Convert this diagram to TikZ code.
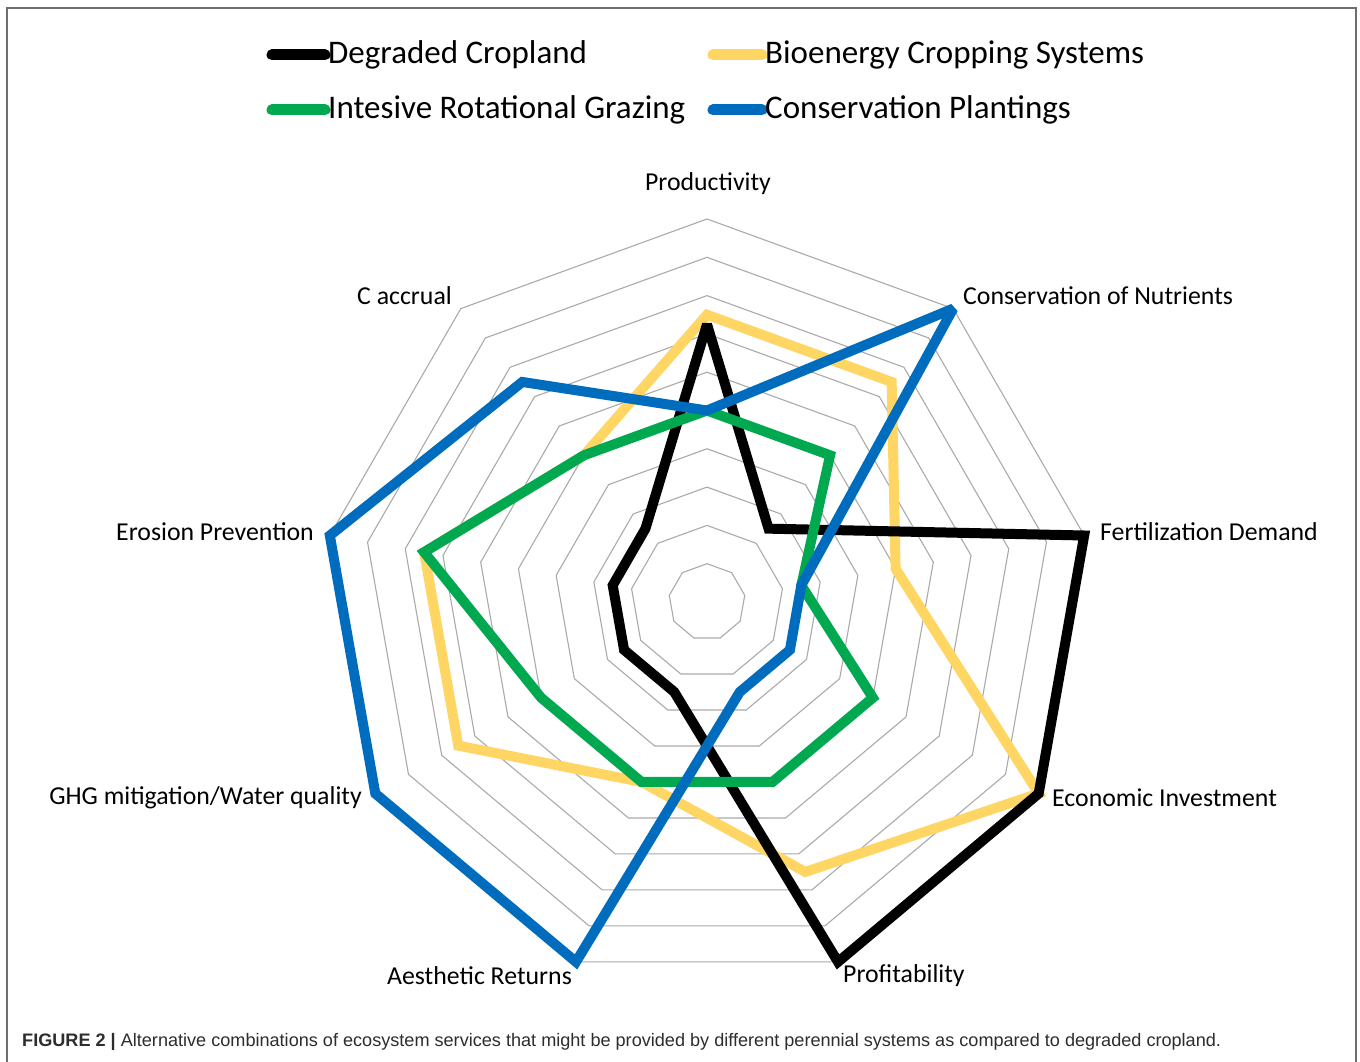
\documentclass[tikz,border=0pt]{standalone}
\usepackage{fontspec}
\setmainfont{Carlito}
\newfontfamily\capfont{Liberation Sans}
\definecolor{sYellow}{RGB}{255,214,100}
\definecolor{sGreen}{RGB}{0,168,80}
\definecolor{sBlue}{RGB}{0,108,190}
\definecolor{gridgray}{RGB}{170,170,170}
\definecolor{framegray}{RGB}{110,110,110}
\definecolor{capgray}{RGB}{45,45,45}
\newcommand\radarline[3]{%
  \draw[#1] (707,{602-38.3*#2}) \foreach \v [count=\k] in {#3}{ -- ({707+38.3*\v*cos(90-40*\k)},{602-38.3*\v*sin(90-40*\k)}) } -- cycle;
}
\begin{document}
\begin{tikzpicture}[x=1pt,y=-1pt,
  gridline/.style={draw=gridgray,line width=1.1pt},
  series/.style={line width=10pt,line join=miter,miter limit=2},
  legline/.style={line width=11pt,line cap=round},
  axislabel/.style={font=\fontsize{25.8}{28}\selectfont,inner sep=0pt},
  legtext/.style={font=\fontsize{33}{36}\selectfont,inner sep=0pt,anchor=west},
  frameline/.style={draw=framegray,line width=2pt}]
\useasboundingbox (0,0) rectangle (1360,1062);
\fill[white] (0,0) rectangle (1360,1062);
% frame
\draw[frameline] (7,1062) -- (7,8) -- (1356,8) -- (1356,1062);
% grid rings
\foreach \i in {1,...,10}{
  \draw[gridline] (707,{602-38.3*\i}) \foreach \k in {1,...,8}{ -- ({707+38.3*\i*cos(90-40*\k)},{602-38.3*\i*sin(90-40*\k)}) } -- cycle;
}
% series: order yellow, black, green, blue
\radarline{series,draw=sYellow}{7.5}{7.5,5,10,7.5,5,7.5,7.5,5}
\radarline{series,draw=black}{7.25}{2.5,10,10,10,2.5,2.5,2.5,2.5}
\radarline{series,draw=sGreen}{5}{5,2.5,5,5,5,5,7.5,5}
\radarline{series,draw=sBlue}{5}{10,2.5,2.5,2.5,10,10,10,7.5}
% axis labels
\node[axislabel] (lProd) at (708,184) {Productivity};
\node[axislabel,anchor=west] (lCons) at (963,296) {Conservation of Nutrients};
\node[axislabel,anchor=west] (lFert) at (1100,532) {Fertilization Demand};
\node[axislabel,anchor=west] (lEcon) at (1052,798) {Economic Investment};
\node[axislabel,anchor=west] (lProf) at (843,976) {Profitability};
\node[axislabel,anchor=east] (lAest) at (572,976) {Aesthetic Returns};
\node[axislabel,anchor=east] (lGHG) at (362,798) {GHG mitigation/Water quality};
\node[axislabel,anchor=east] (lEros) at (314,532) {Erosion Prevention};
\node[axislabel,anchor=east] (lCacc) at (452,296) {C accrual};
% legend
\coordinate (k1a) at (272,55); \coordinate (k1b) at (325,55);
\coordinate (k2a) at (713,55); \coordinate (k2b) at (762,55);
\coordinate (k3a) at (272,110); \coordinate (k3b) at (325,110);
\coordinate (k4a) at (713,110); \coordinate (k4b) at (762,110);
\draw[legline,draw=black] (k1a) -- (k1b);
\draw[legline,draw=sYellow] (k2a) -- (k2b);
\draw[legline,draw=sGreen] (k3a) -- (k3b);
\draw[legline,draw=sBlue] (k4a) -- (k4b);
\node[legtext] (t1) at (328,55) {Degraded Cropland};
\node[legtext] (t2) at (765,55) {Bioenergy Cropping Systems};
\node[legtext] (t3) at (328,110) {Intesive Rotational Grazing};
\node[legtext] (t4) at (765,110) {Conservation Plantings};
% caption
\node[anchor=west,inner sep=0pt,text=capgray,font=\capfont\fontsize{18.1}{20}\selectfont] (cap) at (22,1042)
  {\textbf{FIGURE 2 |} Alternative combinations of ecosystem services that might be provided by different perennial systems as compared to degraded cropland.};
\end{tikzpicture}
\end{document}
